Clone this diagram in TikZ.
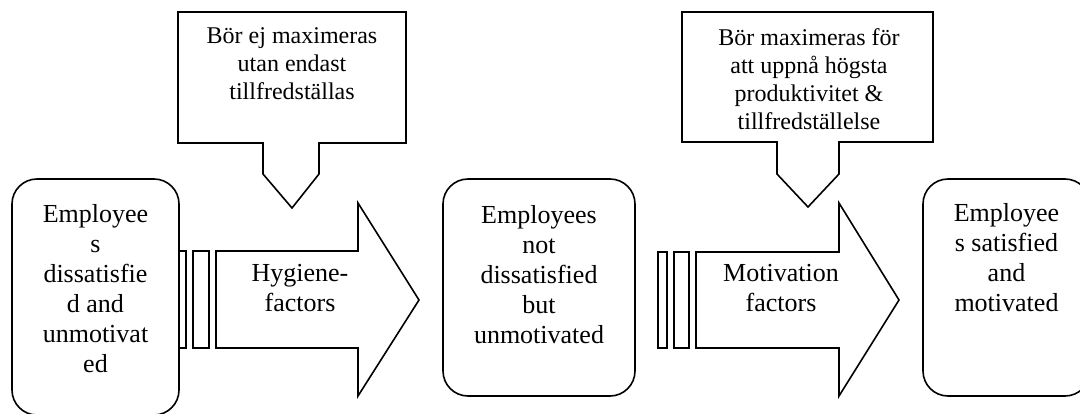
\documentclass[tikz,border=0pt]{standalone}
\usepackage{fontspec}
\setmainfont{Liberation Serif}
\newcommand{\mlines}[1]{\begin{tabular}[t]{@{}c@{}}#1\end{tabular}}
\tikzset{
  line/.style={draw=black, line width=1.6pt, line join=miter},
  roundbox/.style={line, rectangle, rounded corners=25pt, fill=white, inner sep=0pt},
  maintext/.style={anchor=base, inner sep=0pt, font=\fontsize{26}{30}\selectfont},
  calltext/.style={anchor=base, inner sep=0pt, font=\fontsize{24}{27.7}\selectfont},
}
\begin{document}
\begin{tikzpicture}[x=1pt,y=-1pt]
\useasboundingbox (0,0) rectangle (1080,414);

% callouts
\draw[line] (178,12) -- (406,12) -- (406,143) -- (319,143) -- (319,174) -- (292,208) -- (263,174) -- (263,143) -- (178,143) -- cycle;
\draw[line] (682,12) -- (933,12) -- (933,142) -- (839,142) -- (839,174) -- (808,207) -- (777,174) -- (777,142) -- (682,142) -- cycle;
\node[calltext] (c1) at (292,44) {\mlines{Bör ej maximeras\\utan endast\\tillfredställas}};
\node[calltext] (c2) at (809,46) {\mlines{Bör maximeras för\\att uppnå högsta\\produktivitet \&\\tillfredställelse}};

% arrow 1
\draw[line] (179,251) rectangle (186,348);
\draw[line] (193,251) rectangle (209,348);
\draw[line] (216,251) -- (358,251) -- (358,203) -- (419,300) -- (358,396) -- (358,348) -- (216,348) -- cycle;
\node[maintext] (a1) at (300,282) {\mlines{Hygiene-\\factors}};

% arrow 2
\draw[line] (658,252) rectangle (667,348);
\draw[line] (674,252) rectangle (689,348);
\draw[line] (696,252) -- (839,252) -- (839,203) -- (899,300) -- (839,396) -- (839,348) -- (696,348) -- cycle;
\node[maintext] (a2) at (781,282) {\mlines{Motivation\\factors}};

% boxes
\node[roundbox, minimum width=167pt, minimum height=236pt] (b1) at (95.5,297) {};
\node[roundbox, minimum width=192pt, minimum height=217pt] (b2) at (539,287.5) {};
\node[roundbox, minimum width=167pt, minimum height=217pt] (b3) at (1006.5,287.5) {};
\node[maintext] (t1) at (95.5,223) {\mlines{Employee\\s\\dissatisfie\\d and\\unmotivat\\ed}};
\node[maintext] (t2) at (539,224) {\mlines{Employees\\not\\dissatisfied\\but\\unmotivated}};
\node[maintext] (t3) at (1006.5,222) {\mlines{Employee\\s satisfied\\and\\motivated}};
\end{tikzpicture}
\end{document}
